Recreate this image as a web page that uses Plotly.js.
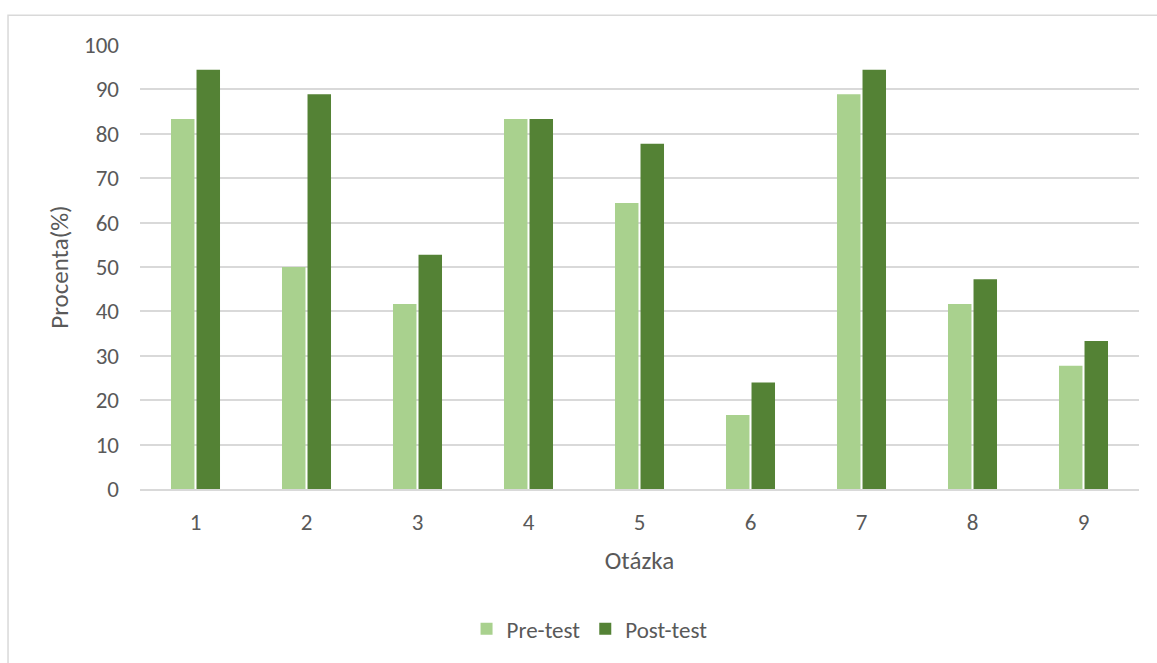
<!DOCTYPE html>
<html>
<head>
<meta charset="utf-8">
<script src="https://cdn.plot.ly/plotly-3.0.1.min.js"></script>
<style>
  html, body { margin: 0; padding: 0; background: #ffffff; }
  #chart { width: 1157px; height: 663px; }
</style>
</head>
<body>
<div id="chart"></div>
<script>
// Question numbers and percentage of correct answers before/after
const questions = ['1', '2', '3', '4', '5', '6', '7', '8', '9'];
const preTest = [83.33, 50, 41.67, 83.33, 64.44, 16.67, 88.89, 41.67, 27.78];
const postTest = [94.44, 88.89, 52.78, 83.33, 77.78, 24, 94.44, 47.22, 33.33];
const yTicks = [0, 10, 20, 30, 40, 50, 60, 70, 80, 90, 100];

const textColor = '#595959';
const gridColor = '#d9d9d9';
const fontFamily = 'Carlito, Calibri, Lato, sans-serif';

const traces = [
  {
    type: 'bar', name: 'Pre-test', x: questions, y: preTest,
    marker: { color: '#a9d18e' }, hoverinfo: 'x+y'
  },
  {
    type: 'bar', name: 'Post-test', x: questions, y: postTest,
    marker: { color: '#548235' }, hoverinfo: 'x+y'
  }
];

const layout = {
  width: 1157, height: 663,
  margin: { l: 140, r: 18, t: 45, b: 170 },
  paper_bgcolor: '#ffffff', plot_bgcolor: '#ffffff',
  font: { family: fontFamily, color: textColor, size: 23 },
  barmode: 'group',
  bargap: 0.54,
  bargroupgap: 0.08,
  showlegend: true,
  legend: {
    orientation: 'h', x: 0.45, xanchor: 'center', y: -0.315, yanchor: 'middle',
    font: { size: 23, color: textColor }, itemwidth: 30, traceorder: 'normal'
  },
  xaxis: {
    type: 'category', showgrid: false, zeroline: false, automargin: false,
    showline: true, linecolor: gridColor, linewidth: 1.5,
    ticks: '', ticklabelstandoff: 12,
    tickfont: { size: 23, color: textColor },
    title: { text: 'Otázka', font: { size: 25, color: textColor }, standoff: 16 }
  },
  yaxis: {
    range: [0, 100], tickvals: yTicks, ticktext: yTicks.map(String),
    showgrid: true, gridcolor: gridColor, gridwidth: 1.5, automargin: false,
    zeroline: false, showline: false, ticks: '',
    ticklabelstandoff: 20,
    tickfont: { size: 23, color: textColor },
    title: { text: 'Procenta(%)', font: { size: 25, color: textColor }, standoff: 8 }
  },
  shapes: [
    {
      type: 'rect', xref: 'paper', yref: 'paper',
      x0: -0.1321, x1: 1.03, y0: -0.4, y1: 1.0671,
      line: { color: gridColor, width: 1.5 }, fillcolor: 'rgba(0,0,0,0)', layer: 'below'
    }
  ]
};

Plotly.newPlot('chart', traces, layout, { displayModeBar: false, responsive: false });
</script>
</body>
</html>
